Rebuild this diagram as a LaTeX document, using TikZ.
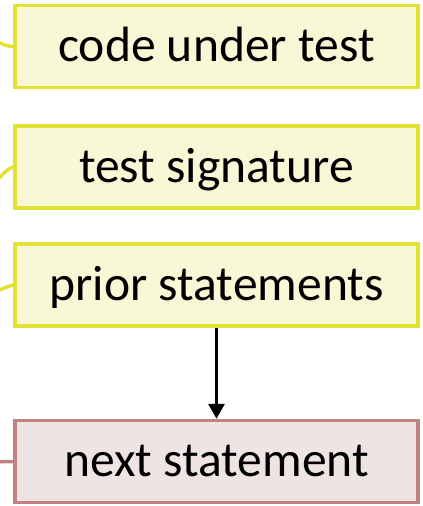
\documentclass[tikz,border=0pt]{standalone}
\usepackage{fontspec}
\setmainfont{Carlito}
\usetikzlibrary{arrows.meta}
\definecolor{yfill}{RGB}{248,248,214}
\definecolor{yline}{RGB}{226,226,52}
\definecolor{pfill}{RGB}{239,228,228}
\definecolor{pline}{RGB}{192,130,130}
\tikzset{
  box/.style={draw, line width=3.5pt, minimum width=403pt, minimum height=82pt,
    inner sep=0pt, text height=30pt, text depth=0pt,
    font=\fontsize{49.6pt}{56pt}\selectfont},
  ybox/.style={box, draw=yline, fill=yfill},
  pbox/.style={box, draw=pline, fill=pfill},
  ylink/.style={draw=yline, line width=3.5pt},
  plink/.style={draw=pline, line width=3.5pt},
  flow/.style={draw=black, line width=3.2pt, -{Triangle[width=16pt,length=15pt]}}
}
\begin{document}
\begin{tikzpicture}[x=1pt,y=-1pt]
\useasboundingbox (0,0) rectangle (423,506);
\node[ybox] (b1) at (216.5,46.5) {code under test};
\node[ybox] (b2) at (216.5,167) {test signature};
\node[ybox] (b3) at (216.5,285) {prior statements};
\node[pbox] (b4) at (216.5,461.5) {next statement};
\coordinate (s1) at (-12,40);
\coordinate (s2) at (-12,186);
\coordinate (s3) at (-12,294);
\coordinate (s4) at (-12,462);
\draw[ylink] (s1) to[out=0,in=180] (b1.west);
\draw[ylink] (s2) to[out=20,in=200] (b2.west);
\draw[ylink] (s3) to[out=15,in=195] (b3.west);
\draw[plink] (s4) -- (b4.west);
\draw[flow] (b3.south) -- (b4.north);
\end{tikzpicture}
\end{document}
